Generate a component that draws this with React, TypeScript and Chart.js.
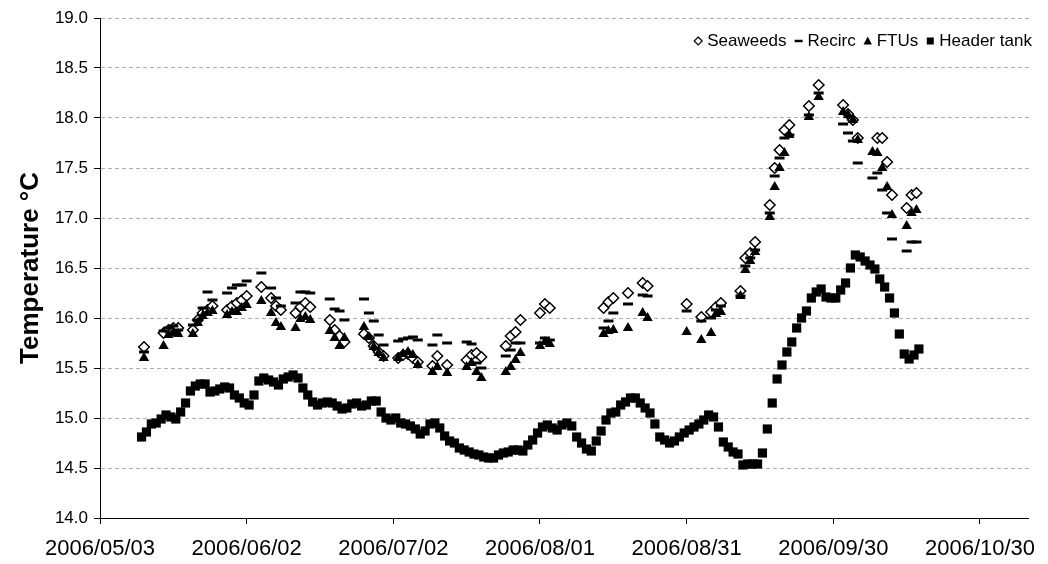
import React, { useEffect, useRef } from "react";
import { Chart, registerables } from "chart.js";

Chart.register(...registerables);

// ---- axis data ----
const START_DATE_UTC = Date.UTC(2006, 4, 3); // day 0 = 2006/05/03
const X_MIN_DAY = 0;
const X_MAX_DAY = 190;
const xTickDays = [0, 30, 60, 90, 120, 150, 180];
const Y_MIN = 14;
const Y_MAX = 19;
const Y_STEP = 0.5;

const seriesNames = ["Seaweeds", "Recirc", "FTUs", "Header tank"];

// ---- Header tank: daily readings ----
const headerTankStartDay = 8.5;
const headerTankTemps = [
  14.81, 14.86, 14.94, 14.95, 14.99, 15.03, 15.01, 14.99, 15.06, 15.15,
  15.27, 15.32, 15.34, 15.34, 15.26, 15.27, 15.29, 15.31, 15.3, 15.23,
  15.2, 15.15, 15.13, 15.23, 15.37, 15.4, 15.38, 15.36, 15.33, 15.39,
  15.41, 15.43, 15.4, 15.3, 15.23, 15.16, 15.13, 15.15, 15.16, 15.15,
  15.12, 15.09, 15.1, 15.14, 15.15, 15.12, 15.13, 15.17, 15.17, 15.06,
  15.0, 14.98, 15.0, 14.95,
  14.94, 14.92, 14.89, 14.84, 14.87, 14.94, 14.95, 14.9, 14.82, 14.77,
  14.75, 14.7, 14.68, 14.66, 14.64, 14.63, 14.61, 14.6, 14.6, 14.63,
  14.65, 14.66, 14.68, 14.68, 14.67, 14.73, 14.78, 14.85, 14.91, 14.93,
  14.9, 14.88, 14.93, 14.95, 14.92, 14.81, 14.75, 14.69, 14.67, 14.77,
  14.87, 14.98, 15.05, 15.06, 15.13, 15.16, 15.2, 15.2, 15.15, 15.1,
  15.05, 14.94, 14.81, 14.78, 14.75, 14.77, 14.81, 14.85, 14.88,
  14.91, 14.94, 14.98, 15.03, 15.01, 14.91, 14.76, 14.71, 14.66, 14.64,
  14.53, 14.54, 14.54, 14.54, 14.65, 14.89, 15.15, 15.39, 15.53, 15.66,
  15.76, 15.9, 16.0, 16.07, 16.2, 16.26, 16.29, 16.21, 16.2, 16.2,
  16.28, 16.35, 16.5, 16.63, 16.61, 16.57, 16.53, 16.49, 16.39, 16.31,
  16.2, 16.05, 15.84, 15.64, 15.59, 15.63, 15.69,
];

// ---- sampled series (weekday sampling) ----
const sampleDays = [
  9, 13, 14, 15, 16, 19, 20, 21, 22, 23, 26, 27, 28, 29, 30, 33, 35, 36, 37,
  40, 41, 42, 43, 47, 48, 49, 50, 54, 55, 56, 57, 58, 61, 62, 63, 64, 65,
  68, 69, 71, 75, 76, 77, 78, 83, 84, 85, 86, 90, 91, 92, 103, 104, 105, 108,
  111, 112, 120, 123, 125, 126, 127, 131, 132, 133, 134, 137, 138, 139, 140,
  141, 145, 147, 152, 153, 154, 155, 158, 159, 160, 161, 162, 165, 166, 167,
];

const seaweedsTemps = [
  15.71, 15.85, 15.88, 15.9, 15.9, 15.88, 15.98, 16.05, 16.08, 16.12,
  16.08, 16.12, 16.15, 16.18, 16.22, 16.31, 16.2, 16.12, 16.08,
  16.05, 16.11, 16.15, 16.11, 15.98, 15.88, 15.82, 15.76,
  15.84, 15.8, 15.72, 15.66, 15.62, 15.6, 15.63, 15.64, 15.6, 15.56,
  15.52, 15.62, 15.53, 15.58, 15.63, 15.65, 15.61, 15.72, 15.82, 15.86, 15.98,
  16.05, 16.14, 16.1, 16.1, 16.16, 16.2, 16.25, 16.35, 16.32, 16.14,
  16.01, 16.06, 16.11, 16.15, 16.27, 16.6, 16.65, 16.76,
  17.13, 17.5, 17.68, 17.88, 17.93, 18.12, 18.33, 18.13, 18.04, 17.98, 17.8,
  null, 17.8, 17.8, 17.56, 17.23, 17.1, 17.23, 17.25,
];

const recircTemps = [
  15.66, 15.87, 15.9, 15.92, 15.88, 15.93, 15.98, 16.1, 16.26, 16.18,
  16.25, 16.3, 16.33, 16.33, 16.37, 16.45, 16.3, 16.2, 16.12,
  16.15, 16.26, 16.26, 16.25, 16.19, 16.09, 16.07, 15.98,
  16.19, 16.05, 15.97, 15.83, 15.73, 15.77, 15.79, 15.8, 15.81, 15.78,
  15.73, 15.83, 15.75, 15.76, 15.74, 15.55, 15.5, 15.62, 15.68, 15.75, 15.75,
  15.75, 15.8, 15.78, 15.9, 15.97, 16.05, 16.14, 16.23, 16.22, 16.07,
  15.97, 16.0, 16.08, 16.12, 16.22, 16.52, 16.6, 16.68,
  17.05, 17.42, 17.6, 17.8, 17.83, 18.03, 18.25, 17.94, 17.85, 17.77, 17.55,
  17.4, 17.45, 17.28, 17.05, 16.79, 16.67, 16.76, 16.76,
];

const ftusTemps = [
  15.6, 15.72, 15.83, 15.85, 15.84, 15.84, 15.95, 16.02, 16.05, 16.07,
  16.03, 16.06, 16.06, 16.1, 16.13, 16.17, 16.05, 15.95, 15.91,
  15.9, 15.99, 16.01, 15.98, 15.87, 15.8, 15.72, 15.8,
  15.91, 15.81, 15.71, 15.65, 15.6, 15.6, 15.64, 15.66, 15.63, 15.53,
  15.46, 15.51, 15.45, 15.51, 15.55, 15.46, 15.4, 15.46, 15.51, 15.58, 15.65,
  15.72, 15.76, 15.74, 15.84, 15.87, 15.88, 15.9, 16.05, 16.0, 15.86,
  15.78, 15.85, 16.04, 16.06, 16.22, 16.48, 16.57, 16.66,
  17.01, 17.31, 17.5, 17.65, 17.83, 18.01, 18.21, 18.06, 18.03, 17.98, 17.78,
  17.66, 17.65, 17.5, 17.31, 17.03, 16.92, 17.05, 17.08,
];

const FONT = "'Liberation Sans', Arial, sans-serif";

function toPoints(days: number[], temps: (number | null)[]) {
  const pts: { x: number; y: number }[] = [];
  days.forEach((d, i) => {
    const v = temps[i];
    if (v !== null && v !== undefined) pts.push({ x: d, y: v });
  });
  return pts;
}

function dayLabel(d: number) {
  const dt = new Date(START_DATE_UTC + d * 86400000);
  const mm = String(dt.getUTCMonth() + 1).padStart(2, "0");
  const dd = String(dt.getUTCDate()).padStart(2, "0");
  return `${dt.getUTCFullYear()}/${mm}/${dd}`;
}

function drawLegendMarker(ctx: CanvasRenderingContext2D, idx: number, x: number, y: number) {
  ctx.save();
  ctx.fillStyle = "#000";
  ctx.strokeStyle = "#000";
  if (idx === 0) {
    const r = 4;
    ctx.beginPath();
    ctx.moveTo(x, y - r);
    ctx.lineTo(x + r, y);
    ctx.lineTo(x, y + r);
    ctx.lineTo(x - r, y);
    ctx.closePath();
    ctx.fillStyle = "#fff";
    ctx.fill();
    ctx.lineWidth = 1.2;
    ctx.stroke();
  } else if (idx === 1) {
    ctx.lineWidth = 2.5;
    ctx.beginPath();
    ctx.moveTo(x - 4, y);
    ctx.lineTo(x + 4, y);
    ctx.stroke();
  } else if (idx === 2) {
    ctx.beginPath();
    ctx.moveTo(x, y - 4.5);
    ctx.lineTo(x + 4.2, y + 3.5);
    ctx.lineTo(x - 4.2, y + 3.5);
    ctx.closePath();
    ctx.fill();
  } else {
    ctx.fillRect(x - 3.5, y - 3.5, 7, 7);
  }
  ctx.restore();
}

const customLegend = {
  id: "customLegend",
  afterDraw(chart: any) {
    const ctx: CanvasRenderingContext2D = chart.ctx;
    const area = chart.chartArea;
    ctx.save();
    ctx.font = `17px ${FONT}`;
    ctx.textBaseline = "middle";
    ctx.textAlign = "left";
    ctx.fillStyle = "#000";
    const y = area.top + 23;
    let cursor = area.right + 3;
    const markerW = 8;
    const gapMT = 5;
    const gapItems = 8;
    for (let i = seriesNames.length - 1; i >= 0; i--) {
      const name = seriesNames[i];
      const w = ctx.measureText(name).width;
      const tx = cursor - w;
      ctx.fillStyle = "#000";
      ctx.fillText(name, tx, y);
      const mx = tx - gapMT - markerW / 2;
      drawLegendMarker(ctx, i, mx, y);
      cursor = mx - markerW / 2 - gapItems;
    }
    ctx.restore();
  },
};

export default function App() {
  const canvasRef = useRef<HTMLCanvasElement | null>(null);

  useEffect(() => {
    document.body.style.margin = "0";
    const canvas = canvasRef.current;
    if (!canvas) return;
    Chart.defaults.font.family = FONT;
    Chart.defaults.color = "#000";

    const headerPoints = headerTankTemps.map((v, i) => ({ x: headerTankStartDay + i, y: v }));

    const chart = new Chart(canvas, {
      type: "scatter",
      data: {
        datasets: [
          {
            label: seriesNames[0],
            data: toPoints(sampleDays, seaweedsTemps),
            pointStyle: "rectRot",
            backgroundColor: "#ffffff",
            borderColor: "#000000",
            borderWidth: 1.5,
            pointRadius: 5.3,
            order: 4,
          },
          {
            label: seriesNames[1],
            data: toPoints(sampleDays, recircTemps),
            pointStyle: "line",
            backgroundColor: "#000000",
            borderColor: "#000000",
            borderWidth: 3,
            pointRadius: 5,
            order: 3,
          },
          {
            label: seriesNames[2],
            data: toPoints(sampleDays, ftusTemps),
            pointStyle: "triangle",
            backgroundColor: "#000000",
            borderColor: "#000000",
            borderWidth: 0,
            pointRadius: 6,
            order: 2,
          },
          {
            label: seriesNames[3],
            data: headerPoints,
            pointStyle: "rect",
            backgroundColor: "#000000",
            borderColor: "#000000",
            borderWidth: 0,
            pointRadius: 6.5,
            order: 1,
          },
        ],
      },
      options: {
        animation: false,
        responsive: true,
        maintainAspectRatio: false,
        layout: { padding: { top: 18, right: 18, left: 0, bottom: 0 } },
        plugins: {
          tooltip: { enabled: false },
          legend: { display: false },
        },
        scales: {
          x: {
            type: "linear",
            min: X_MIN_DAY,
            max: X_MAX_DAY,
            afterBuildTicks: (scale: any) => {
              scale.ticks = xTickDays.map((v) => ({ value: v }));
            },
            afterFit: (scale: any) => {
              scale.height = 46;
            },
            ticks: {
              callback: (v: any) => dayLabel(Number(v)),
              font: { size: 22, family: FONT },
              color: "#000",
              padding: 12,
              maxRotation: 0,
              autoSkip: false,
            },
            grid: {
              drawOnChartArea: false,
              drawTicks: true,
              tickLength: 6,
              tickColor: "#000",
              color: "#000",
            },
            border: { display: true, color: "#000", width: 1 },
          },
          y: {
            type: "linear",
            min: Y_MIN,
            max: Y_MAX,
            afterFit: (scale: any) => {
              scale.width = 100;
            },
            ticks: {
              stepSize: Y_STEP,
              callback: (v: any) => Number(v).toFixed(1),
              font: { size: 17, family: FONT },
              color: "#000",
              padding: 6,
            },
            title: {
              display: true,
              text: "Temperature °C",
              color: "#000",
              font: { size: 26, weight: "bold", family: FONT },
              padding: { top: 15, bottom: 0 },
            },
            grid: {
              color: "#b0b0b0",
              lineWidth: 1,
              tickLength: 6,
              tickColor: "#000",
              tickBorderDash: [],
            },
            border: { display: true, color: "#000", width: 1, dash: [4, 3] },
          },
        },
      },
      plugins: [customLegend],
    } as any);

    return () => chart.destroy();
  }, []);

  return (
    <div style={{ width: 1048, height: 564, position: "relative" }}>
      <canvas ref={canvasRef} />
    </div>
  );
}
